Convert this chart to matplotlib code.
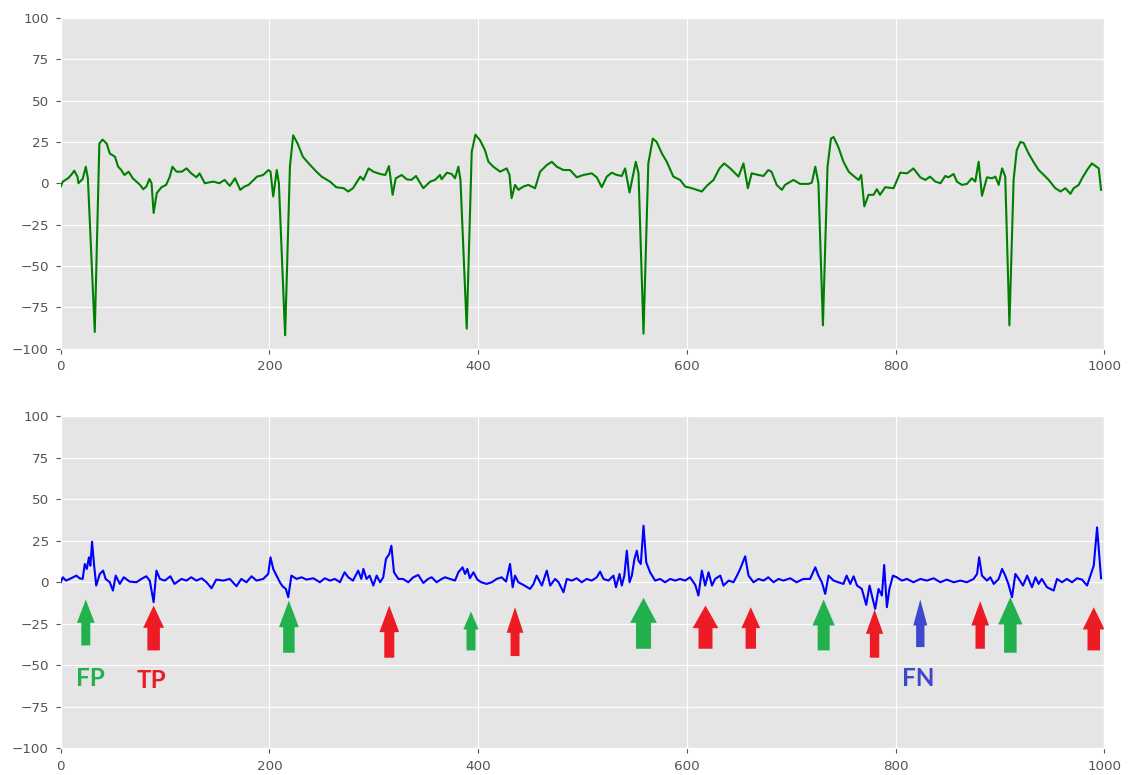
import matplotlib
matplotlib.use("Agg")
import matplotlib.pyplot as plt

# ---- raw ECG lead (upper panel) ----
ecg_x = [0, 2, 7, 10, 13, 16, 17, 20, 21, 24, 26, 32.6, 37, 40, 44, 47, 52, 55, 58, 61,
         65, 69, 76, 79, 82, 85, 87, 89, 92, 96.5, 101, 104.5, 107, 111, 116, 120.5, 125,
         130, 133, 138, 146, 152, 157, 162, 167, 172, 176, 180, 188, 194, 199, 201, 203.6,
         207, 209, 215, 219.6, 222.7, 227, 232, 239, 245, 250, 258, 264, 271, 275.5, 280,
         287, 290, 295, 299.5,
         306, 311, 314.5, 318, 321, 326.7, 331.5, 336, 340.4, 347.4, 354, 358.6, 363.4,
         365, 370, 374.6, 377.8, 381, 383, 389, 393.8, 397.3, 401.8, 406.5, 409.8, 414.5,
         421, 427.3, 430, 432, 435.3, 438.5, 443.3, 448, 454.5, 459.3, 465.7, 470.5, 475.3,
         481.7, 488, 494.4, 500.8, 508.8, 513.6, 518.4, 523.2, 528, 532.8, 537.6, 540.8,
         545, 551, 553.6, 558.4, 563, 567.3, 571, 576, 580.7, 587, 593.5, 598.3, 604.7,
         614.3, 619, 625.5, 631.2, 635.7, 641.5, 649.4, 654.2, 658.4,
         662, 668.6, 673.4, 678, 681, 686, 691, 694, 702, 708.5, 716.5, 719.7, 723, 726,
         730.3, 734.7, 738, 740.5, 745, 750, 755, 759.7, 764.5, 767, 770, 774, 778.8, 782,
         785, 790, 798, 804.4, 811, 817, 823.6, 828.4, 833, 838, 843, 847.5, 850.7, 855.5,
         858.7, 863.5, 868.3, 873, 876.3, 879.5, 882.7, 887.5, 892.3, 895.5, 898.7, 902,
         905, 909, 913, 916, 919.5, 922.6, 927.4, 932, 937, 942, 946.6, 953, 958, 962.6,
         967.4, 970.6, 975.4, 978.6, 983.4, 988, 992.3, 994.6, 996.8]
ecg_y = [-2, 1, 3, 5, 7.6, 4, 0, 2, 2.5, 10, 3, -90, 24, 26.4, 24, 18, 16, 10, 8, 5,
         7, 3, -1, -3.6, -2, 2.6, 0, -18, -6, -2.4, -1, 4, 10, 7, 7, 9, 6,
         3.6, 6, 0, 1, 0, 2, -1.6, 3, -4, -2, -1, 4, 5, 8, 7, -8,
         8, 0, -92, 10, 29, 24, 16, 11, 7, 4, 1, -2.4, -3, -5, -3,
         4, 2, 9, 7,
         5.6, 5, 10.4, -7, 3, 5, 2.4, 2, 4.4, -3, 1, 2, 5,
         2.4, 6.4, 5.6, 3, 10, 2, -88, 19, 29.4, 26, 20, 13, 10,
         7, 9, 5, -9, -1, -4, -2, -1, -3, 7, 11, 13, 10,
         8, 8, 3.6, 5, 6, 3.6, -2.4, 4, 6.4, 5, 4.4, 9,
         -5.6, 13, 6, -91, 12, 27, 25, 18, 13, 4, 2, -2, -3,
         -5, -1.6, 2, 9, 12, 9, 4, 12, -3,
         6, 5, 4.4, 8, 7, -1, -4, -1, 2, -0.4, -0.4, 0.4, 10, 0,
         -86, 10, 27, 28, 22, 13, 7, 4.4, 2, 5, -14, -7, -7, -3.6,
         -7, -2.4, -3, 6.4, 6, 9, 3.6, 2, 4, 1, 0, 4.4, 3.6, 5.6,
         1, -1, -0.4, 3, 1, 13, -7.6, 3.6, 3, 4, -1, 9,
         4, -86, 2, 20, 25, 24.4, 18, 13, 8, 5, 2, -3, -5, -3,
         -6.4, -3, -1, 3, 8, 12, 10, 9, -4]

# ---- detector output (lower panel) ----
det_x = [0, 2, 5, 10, 15, 18, 21, 23, 25, 27, 28.4, 30, 32, 34, 37.4, 40.6, 43, 47, 50,
         52.7, 56.6, 60.4, 66, 72.5, 77.3, 82, 85.3, 89, 91.7, 95, 99.7, 105, 109, 115.7,
         120.5, 125, 130, 135, 139.7, 144.5, 149, 155.6, 162, 168.4, 173, 178, 182.8,
         187.6, 194, 198.8, 201, 203.6, 206, 210, 212.5, 215.7, 218, 221, 226, 230.7,
         235.5, 242, 248.3, 253, 258, 262.7, 267.5, 272, 275.5, 280, 285, 288, 290, 293,
         296, 299.5,
         302.7, 306, 309, 311.6, 314.8, 316.8, 319.3, 323.5, 328, 333, 337.8, 342.6,
         347.4, 352, 355.4, 360.2, 365, 368.2, 373, 377.8, 381, 385, 387.4, 389.6, 392,
         395.4, 399.2, 403, 408, 413, 417.7, 422.5, 426.7, 430.5, 433, 435.3, 438.5,
         443.3, 449.7, 453, 456, 461, 465.7, 469, 473.7, 477, 481.7, 484.9, 489.7, 494.4,
         499.2, 504, 508.8, 513.6, 516.8, 520, 524.8, 529.6, 532, 535.4, 537.6, 540,
         542.4, 545, 547.2, 549.7, 552, 553.6, 555.8, 558.4, 561, 564.7, 569.5, 574.3,
         579, 584, 588.7, 593.5, 598.3, 603, 608, 611, 614.3, 617.5, 620.7, 624, 627,
         632, 635, 640, 644.6, 648, 651, 655.8, 659,
         663.8, 668.6, 673.4, 678, 683, 687.8, 692.5, 699, 705, 711.7, 718, 723, 726,
         729.3, 732.5, 735.7, 740.5, 745, 750, 753, 756.5, 759.7, 763, 767.6, 771.8, 775,
         778, 780.4, 783.6, 786.8, 789, 791.6, 794, 797.4, 801, 806, 810.8, 817, 823.6,
         830, 836.4, 842.8, 849, 855.5, 862, 868.3, 874.7, 878, 880, 882.7, 887.5, 890.7,
         894, 898.7, 902, 905, 908, 911.5, 914.7, 918, 922, 926, 930.6, 934, 937, 940,
         945, 951.4, 954.6, 959.4, 964, 969, 973.8, 978.6, 983.4, 986.6, 989.8, 993,
         994.6, 996.8]
det_y = [0, 3, 1, 2.4, 4, 2.4, 2, 11, 8, 15, 10, 24.4, 10, -2, 5, 7, 2, 0, -5,
         4, -1, 3, 0.4, 0, 2, 3.6, 1, -12, 7, 2, 1, 3.6, -1, 2,
         1, 3, 1, 2.4, 0, -3.6, 1.6, 1, 2, -2.4, 2, 0, 3.6,
         1, 2, 5, 15, 8, 5, 0, -2.4, -4, -9, 4, 2, 3,
         1.6, 2.4, 0, 2.4, 1, 2, 0, 6, 3, 1, 7, 2, 8, 2,
         4, -2,
         4, 0, 3, 14, 17, 22, 6, 2, 2, 0, 3, 4.4,
         -0.4, 2, 3, 0, 2, 3, 2, 1, 6, 9, 5, 8, 2.4,
         6, 1.6, 0, -1, 0, 2, 3, 0.4, 11, -3, 4, 0,
         -1.6, -4, -1, 4, -2, 7, -2, 2, 0, -6, 2, 1, 2.4,
         0, 2, 1, 3, 6.4, 2, 1, 4, -3, 5, -2, 4,
         19, 0, 4, 14, 19, 13, 11, 34, 12, 6, 1, 2,
         0, 2, 1, 2, 1, 3, -1.6, -8, 7, -2, 6, -2, 2,
         4, -2, 1, 0, 4, 8, 15.6, 4,
         0, 2, 1, 3, 0, 2, 1, 2.4, 0, 2, 2, 9, 4,
         0, -7, 4, 1, 0, -1, 4, -1, 3.6, -2, -4, -13.6, -2,
         -10, -16, -4, -8, 10.4, -15, -4, 4, 3, 1, 2, 0, 2,
         1, 2.4, 0, 1.6, 0, 1, 0, 2, 5, 15, 4, 1, 3,
         -1, 2, 8, 4, -1, -9, 5, 2, -2, 4, -3, 3, -1, 2,
         -3, -5, 2, 0, 2, 0, 2.4, 1.6, -2, 4, 10, 33,
         20, 2.4]

# ---- beat annotations: FP (green), TP (red), FN (blue) ----
beat_x = [24, 89, 218.6, 314.8, 393.1, 435.3, 558.4, 617.8, 661.2, 731, 779.8,
          823.6, 881, 909.9, 989.8]
beat_tip = [-10.4, -14, -11, -14, -17.6, -15, -9.4, -14, -15, -10.4, -16.4,
            -10.4, -11.4, -9, -15]
beat_tail = [-38, -41, -42.4, -45.4, -41, -44.4, -40, -40, -40, -41, -45.4,
             -39, -40, -42.4, -41]
beat_head_w = [17, 20, 19, 19, 14.7, 16, 25.6, 24.6, 18, 21.4, 16.6, 13.4, 17, 23.3, 21]
beat_shaft_w = [8.6, 12, 11, 9.6, 8.6, 8.6, 14.4, 13.4, 10, 11.5, 9, 8, 9, 12, 12]
beat_head_len = [14, 13.4, 16, 16, 10.8, 15.4, 15, 13.6, 12.6, 15.6, 14.6, 15.6, 14.6, 16.4, 13.4]
beat_kind = ["FP", "TP", "FP", "TP", "FP", "TP", "FP", "TP", "TP", "FP", "TP",
             "FN", "TP", "FP", "TP"]

label_text = ["FP", "TP", "FN"]
label_x = [28, 87, 822]
label_y = [-58, -59, -58]

kind_color = {"FP": "#22b14c", "TP": "#ed1c24", "FN": "#3f48cc"}

plt.style.use("ggplot")
plt.rcParams["font.size"] = 9.7

fig = plt.figure(figsize=(11.29, 7.75), dpi=100)
ax1 = fig.add_axes([0.0538, 0.5503, 0.9244, 0.4265])
ax2 = fig.add_axes([0.0538, 0.0342, 0.9244, 0.4290])

ax1.plot(ecg_x, ecg_y, color="green", lw=1.5, zorder=3)
ax2.plot(det_x, det_y, color="blue", lw=1.5, zorder=3)

for x, tip, tail, hw, sw, hl, k in zip(beat_x, beat_tip, beat_tail, beat_head_w,
                                        beat_shaft_w, beat_head_len, beat_kind):
    ax2.arrow(x, tail, 0, tip - tail, width=sw, head_width=hw, head_length=hl,
              length_includes_head=True, color=kind_color[k], lw=0, zorder=2)

for t, x, y in zip(label_text, label_x, label_y):
    ax2.text(x, y, t, color=kind_color[t], fontsize=17.5, fontweight="bold",
             family="Lato", ha="center", va="center", zorder=4)

for ax in (ax1, ax2):
    ax.set_xlim(0, 1000)
    ax.set_ylim(-100, 100)
    ax.set_xticks([0, 200, 400, 600, 800, 1000])
    ax.set_yticks([-100, -75, -50, -25, 0, 25, 50, 75, 100])
    ax.tick_params(labelsize=9.7, colors="#555555", length=3.5, pad=5)

fig.savefig("out.png", dpi=100)
